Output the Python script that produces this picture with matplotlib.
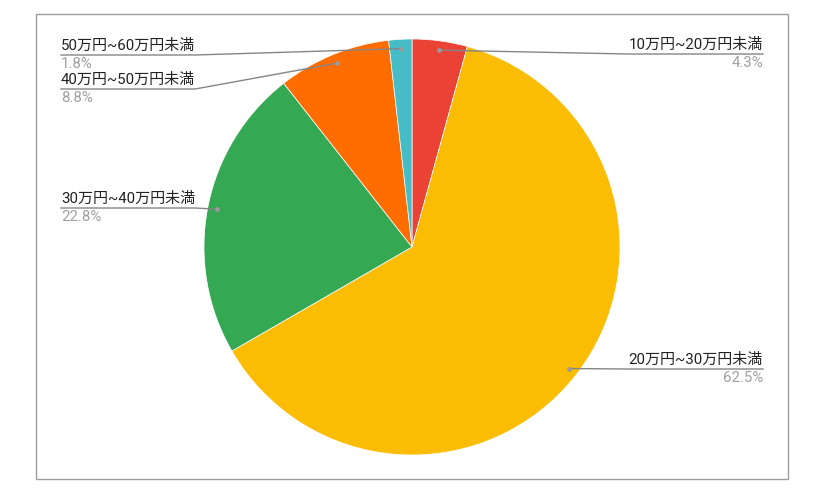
import numpy as np
import matplotlib.pyplot as plt
from matplotlib.patches import Rectangle

plt.rcParams['font.family'] = ['Roboto', 'Noto Sans CJK JP', 'DejaVu Sans']

labels = ['10万円~20万円未満', '20万円~30万円未満', '30万円~40万円未満',
          '40万円~50万円未満', '50万円~60万円未満']
values = [4.3, 62.5, 22.8, 8.8, 1.8]
colors = ['#EA4335', '#FBBC04', '#34A853', '#FF6D01', '#46BDC6']

# label layout in pixels: (text x, underline y, side)
label_pos = [(763, 54, 'right'), (763, 369, 'right'), (61, 208, 'left'),
             (61, 89, 'left'), (61, 55, 'left')]

W, H = 828, 501
cx, cy, r = 412, 247, 208

fig = plt.figure(figsize=(W / 100, H / 100), dpi=100)
ax = fig.add_axes([0, 0, 1, 1])

ax.pie(values, colors=colors, center=(cx, cy), radius=r, startangle=270,
       counterclock=True, wedgeprops=dict(edgecolor='white', linewidth=0.5))
ax.set_xlim(0, W)
ax.set_ylim(H, 0)
ax.set_aspect('equal')
ax.axis('off')

ax.add_patch(Rectangle((36, 14), 752, 465, fill=False, edgecolor='#9e9e9e', lw=1))

total = float(sum(values))
cum = 0.0
for lab, v, (tx, uy, side) in zip(labels, values, label_pos):
    mid = (cum + v / 2) / total * 2 * np.pi
    cum += v
    dx = cx + 0.955 * r * np.sin(mid)
    dy = cy - 0.955 * r * np.cos(mid)
    t = ax.text(tx, uy - 2, lab, ha=side, va='bottom', fontsize=10.8, color='#222222')
    fig.canvas.draw()
    bb = t.get_window_extent().transformed(ax.transData.inverted())
    if side == 'right':
        x0 = min(bb.x0, bb.x1)
        ax.plot([dx, x0, tx], [dy, uy, uy], color='#858585', lw=1)
    else:
        x1 = max(bb.x0, bb.x1)
        ax.plot([tx, x1, dx], [uy, uy, dy], color='#858585', lw=1)
    ax.plot(dx, dy, 'o', ms=3.5, color='#9a9a9a', mec='none')
    ax.text(tx, uy + 2, '%.1f%%' % v, ha=side, va='top', fontsize=10.8, color='#a0a0a0')

fig.savefig('out.png', dpi=100)
